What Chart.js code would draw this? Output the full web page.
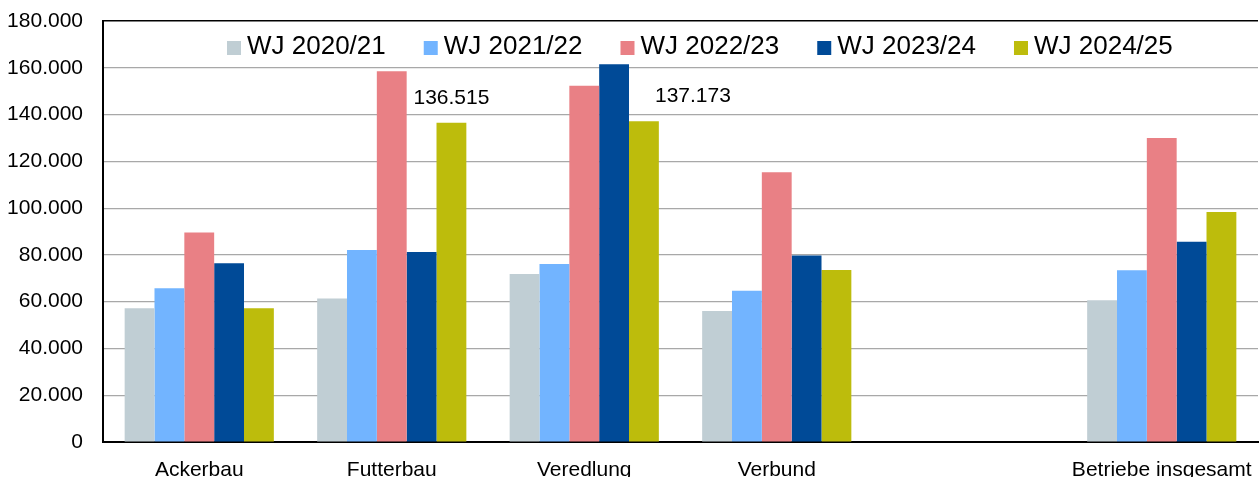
<!DOCTYPE html>
<html>
<head>
<meta charset="utf-8">
<script src="https://cdn.jsdelivr.net/npm/chart.js@4/dist/chart.umd.min.js"></script>
<style>
  html, body { margin: 0; padding: 0; background: #fff; }
  #wrap { width: 1260px; height: 477px; }
</style>
</head>
<body>
<div id="wrap"><canvas id="chart"></canvas></div>
<script>
// categories (empty slot between Verbund and the total, as in the original)
const categories = ["Ackerbau", "Futterbau", "Veredlung", "Verbund", "", "Betriebe insgesamt"];
const seriesNames = ["WJ 2020/21", "WJ 2021/22", "WJ 2022/23", "WJ 2023/24", "WJ 2024/25"];
const wj2020 = [57200, 61400, 71800, 56000, null, 60600];
const wj2021 = [65700, 82100, 76100, 64700, null, 73400];
const wj2022 = [89600, 158500, 152300, 115300, null, 130000];
const wj2023 = [76400, 81200, 161500, 79700, null, 85600];
const wj2024 = [57200, 136515, 137173, 73500, null, 98300];
const yTicks = [0, 20000, 40000, 60000, 80000, 100000, 120000, 140000, 160000, 180000];
// which bars of the last series get a value label
const labelledBars = [1, 2];

const colors = ["#c0ced4", "#72b4ff", "#e98085", "#004a97", "#bdbc0c"];
const fontFam = "'Liberation Sans', Arial, sans-serif";

const fmt = (v) => String(Math.round(v)).replace(/\B(?=(\d{3})+(?!\d))/g, ".");

const legendInside = {
  id: "legendInside",
  afterDatasetsDraw(chart) {
    const { ctx, chartArea } = chart;
    ctx.save();
    ctx.font = "26px " + fontFam;
    ctx.textBaseline = "middle";
    let x = chartArea.left + 124;
    const y = 47;
    chart.data.datasets.forEach((ds) => {
      ctx.fillStyle = ds.backgroundColor;
      ctx.fillRect(x, y - 6, 14, 14);
      ctx.fillStyle = "#000";
      ctx.fillText(ds.label, x + 20, y);
      x += 20 + ctx.measureText(ds.label).width + 38;
    });
    ctx.restore();
  }
};

const valueLabels = {
  id: "valueLabels",
  afterDatasetsDraw(chart) {
    const { ctx } = chart;
    const meta = chart.getDatasetMeta(4);
    ctx.save();
    ctx.font = "21px " + fontFam;
    ctx.fillStyle = "#000";
    ctx.textAlign = "center";
    ctx.textBaseline = "middle";
    labelledBars.forEach((i, n) => {
      const bar = meta.data[i];
      const dx = n === 0 ? 0 : 49;
      ctx.fillText(fmt(wj2024[i]), bar.x + dx, bar.y - 25);
    });
    ctx.restore();
  }
};

const series = [wj2020, wj2021, wj2022, wj2023, wj2024];

new Chart(document.getElementById("chart"), {
  type: "bar",
  data: {
    labels: categories,
    datasets: series.map((d, i) => ({
      label: seriesNames[i],
      data: d,
      backgroundColor: colors[i],
      borderWidth: 0,
      categoryPercentage: 0.775,
      barPercentage: 1
    }))
  },
  options: {
    responsive: true,
    maintainAspectRatio: false,
    animation: false,
    layout: { padding: { top: 21, right: 2, left: 0, bottom: 0 } },
    plugins: {
      legend: { display: false },
      tooltip: { enabled: false }
    },
    scales: {
      x: {
        grid: { display: false },
        border: { display: true, color: "#000", width: 2 },
        ticks: {
          color: "#000",
          font: { family: fontFam, size: 21 },
          padding: 8,
          maxRotation: 0,
          autoSkip: false
        },
        afterFit(scale) {
          scale.height = 35;
          scale.paddingLeft = 0;
          scale.paddingRight = 0;
        }
      },
      y: {
        min: 0,
        max: 180000,
        afterBuildTicks(scale) { scale.ticks = yTicks.map((v) => ({ value: v })); },
        grid: {
          color: (c) => (c.tick && c.tick.value === 180000 ? "#000" : "#a8a8a8"),
          lineWidth: (c) => (c.tick && c.tick.value === 180000 ? 1.5 : 1.2),
          drawTicks: false
        },
        border: { display: true, color: "#000", width: 2 },
        ticks: {
          color: "#000",
          font: { family: fontFam, size: 21 },
          padding: 20,
          callback: (v) => fmt(v)
        },
        afterFit(scale) {
          scale.width = 103;
          scale.paddingTop = 0;
          scale.paddingBottom = 0;
        }
      }
    }
  },
  plugins: [legendInside, valueLabels]
});
</script>
</body>
</html>
